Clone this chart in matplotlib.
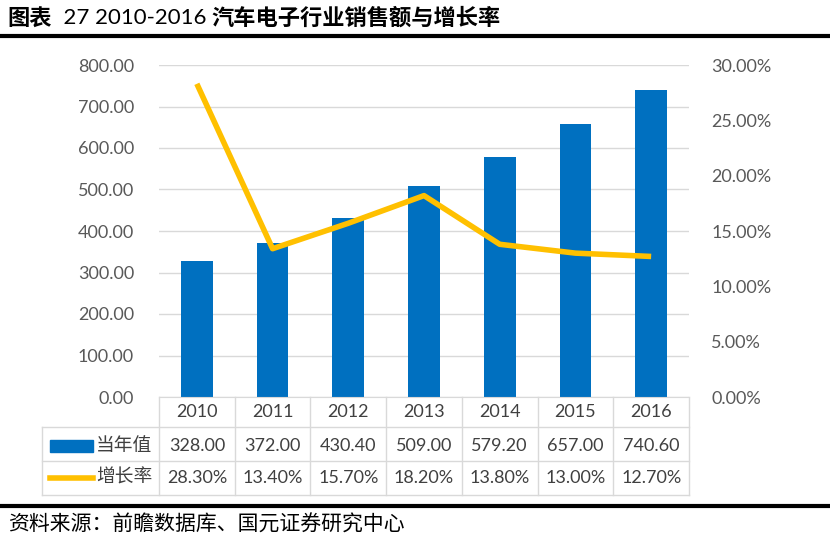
import matplotlib
matplotlib.use("Agg")
import matplotlib.pyplot as plt
from matplotlib.patches import Rectangle
from matplotlib.lines import Line2D
from matplotlib.ticker import FuncFormatter, MultipleLocator

plt.rcParams['font.family'] = ['Lato', 'Noto Sans CJK SC', 'DejaVu Sans']

years = ["2010", "2011", "2012", "2013", "2014", "2015", "2016"]
sales = [328.00, 372.00, 430.40, 509.00, 579.20, 657.00, 740.60]
growth = [28.30, 13.40, 15.70, 18.20, 13.80, 13.00, 12.70]
sales_label = "当年值"
growth_label = "增长率"
title_parts = [("图表", "bold"), ("  27 2010-2016 ", "normal"), ("汽车电子行业销售额与增长率", "bold")]
source = "资料来源：前瞻数据库、国元证券研究中心"

W, H = 830, 540
blue = "#0070C0"
yellow = "#FFC000"
grid_c = "#D9D9D9"
txt_c = "#595959"

fig = plt.figure(figsize=(W / 100, H / 100), dpi=100)

def fx(px):
    return px / W

def fy(py):
    return 1 - py / H

ax_l, ax_r, ax_t, ax_b = 159, 689, 65, 397
ax = fig.add_axes([fx(ax_l), fy(ax_b), fx(ax_r - ax_l), (ax_b - ax_t) / H])
x = list(range(len(years)))
ax.bar(x, sales, width=0.42, color=blue, zorder=2)
ax.set_xlim(-0.5, len(years) - 0.5)
ax.set_ylim(0, 800)
ax.yaxis.set_major_locator(MultipleLocator(100))
ax.yaxis.set_major_formatter(FuncFormatter(lambda v, p: f"{v:.2f}"))
ax.grid(axis="y", color=grid_c, lw=1, zorder=0)
ax.set_xticks([])
for s in ["top", "right", "left"]:
    ax.spines[s].set_visible(False)
ax.spines["bottom"].set_color(grid_c)
ax.tick_params(axis="y", length=0, pad=18, labelsize=13, labelcolor=txt_c)

ax2 = ax.twinx()
ax2.plot(x, growth, color=yellow, lw=4, zorder=3, solid_capstyle="butt")
ax2.set_ylim(0, 30)
ax2.yaxis.set_major_locator(MultipleLocator(5))
ax2.yaxis.set_major_formatter(FuncFormatter(lambda v, p: f"{v:.2f}%"))
for s in ["top", "right", "left", "bottom"]:
    ax2.spines[s].set_visible(False)
ax2.tick_params(axis="y", length=0, pad=16, labelsize=13, labelcolor=txt_c)

# data table under the plot
rows_px = [397, 427, 461, 495]
tab_left = 42
col_w = (ax_r - ax_l) / len(years)
for py in rows_px[1:]:
    fig.add_artist(Line2D([fx(tab_left), fx(ax_r)], [fy(py), fy(py)], color=grid_c, lw=1))
fig.add_artist(Line2D([fx(tab_left), fx(tab_left)], [fy(rows_px[1]), fy(rows_px[3])], color=grid_c, lw=1))
for i in range(len(years) + 1):
    px = ax_l + i * col_w
    fig.add_artist(Line2D([fx(px), fx(px)], [fy(rows_px[0]), fy(rows_px[3])], color=grid_c, lw=1))

tcol = "#404040"
for i, yr in enumerate(years):
    cx = ax_l + (i + 0.5) * col_w
    fig.text(fx(cx), fy(412), yr, ha="center", va="center", fontsize=13, color=tcol)
    fig.text(fx(cx), fy(446), f"{sales[i]:.2f}", ha="center", va="center", fontsize=13, color=tcol)
    fig.text(fx(cx), fy(478), f"{growth[i]:.2f}%", ha="center", va="center", fontsize=13, color=tcol)

fig.add_artist(Rectangle((fx(50), fy(452)), fx(43), 12 / H, color=blue))
fig.add_artist(Line2D([fx(50), fx(93)], [fy(478), fy(478)], color=yellow, lw=4))
fig.text(fx(96), fy(445), sales_label, ha="left", va="center", fontsize=13.5, color=tcol)
fig.text(fx(96), fy(477), growth_label, ha="left", va="center", fontsize=13.5, color=tcol)

# title in pieces: bold Chinese, regular digits
renderer = fig.canvas.get_renderer()
cur_x = 7
for part, weight in title_parts:
    t = fig.text(fx(cur_x), fy(18), part, ha="left", va="center", fontsize=16,
                 fontweight=weight, color="black")
    cur_x += t.get_window_extent(renderer).width

fig.add_artist(Line2D([0, 1], [fy(36), fy(36)], color="black", lw=3))
fig.add_artist(Line2D([0, 1], [fy(506), fy(506)], color="black", lw=3))
fig.text(fx(8), fy(525), source, ha="left", va="center", fontsize=15, color="black")

fig.savefig("out.png", dpi=100)
